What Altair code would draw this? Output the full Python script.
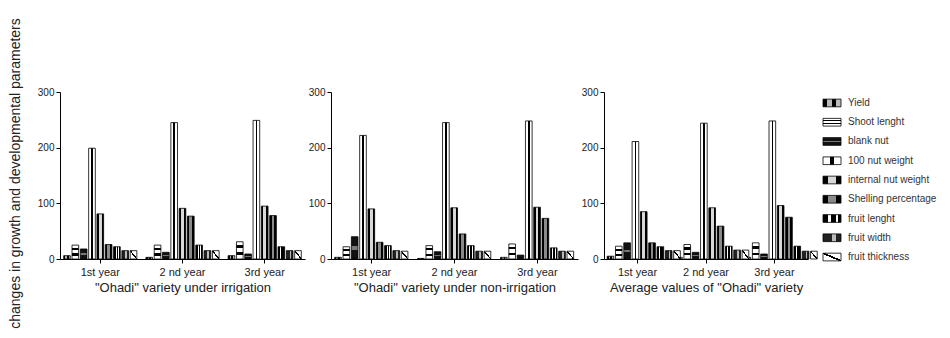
import altair as alt
import pandas as pd

years = ["1st year", "2 nd year", "3rd year"]
series = ["Yield", "Shoot lenght", "blank nut", "100 nut weight", "internal nut weight",
          "Shelling percentage", "fruit lenght", "fruit width", "fruit thickness"]

# values per year, in series order
irr_y1 = [6, 25, 18, 199, 81, 26, 22, 15, 15]
irr_y2 = [3, 25, 12, 245, 91, 77, 25, 15, 15]
irr_y3 = [6, 31, 9, 249, 95, 78, 22, 15, 15]
non_y1 = [3, 22, 40, 222, 90, 30, 24, 15, 14]
non_y2 = [1, 24, 13, 245, 92, 45, 24, 14, 14]
non_y3 = [3, 27, 7, 248, 93, 73, 20, 14, 14]
avg_y1 = [5, 23, 29, 211, 85, 29, 22, 15, 15]
avg_y2 = [3, 26, 12, 244, 92, 59, 23, 16, 16]
avg_y3 = [3, 29, 9, 248, 96, 75, 23, 14, 14]

panel_titles = ['"Ohadi" variety under irrigation',
                '"Ohadi" variety under non-irrigation',
                'Average values of "Ohadi" variety']
y_title = "changes in growth and developmental parameters"
y_ticks = [0, 100, 200, 300]


def make_df(rows):
    recs = []
    for yr, vals in zip(years, rows):
        for s, v in zip(series, vals):
            recs.append({"year": yr, "series": s, "value": v})
    return pd.DataFrame(recs)


B, W = "#000000", "#ffffff"


def grad(segs, x2=1, y2=0, x1=0, y1=0):
    stops = []
    for a, b, c in segs:
        stops.append(alt.GradientStop(color=c, offset=a))
        stops.append(alt.GradientStop(color=c, offset=b))
    return alt.Gradient(gradient="linear", stops=stops, x1=x1, y1=y1, x2=x2, y2=y2)


patterns = {
    "Yield": grad([(0, .25, B), (.25, .5, "#bbbbbb"), (.5, .75, B), (.75, 1, "#bbbbbb")]),
    "Shoot lenght": grad([(0, .2, W), (.2, .35, B), (.35, .6, W), (.6, .75, B), (.75, 1, W)], x2=0, y2=1),
    "blank nut": grad([(0, .42, "#111111"), (.42, .58, "#777777"), (.58, 1, "#111111")], x2=0, y2=1),
    "100 nut weight": grad([(0, .38, W), (.38, .62, B), (.62, 1, W)]),
    "internal nut weight": grad([(0, .3, B), (.3, .7, "#d8d8d8"), (.7, 1, B)]),
    "Shelling percentage": grad([(0, .3, B), (.3, .7, "#8a8a8a"), (.7, 1, B)]),
    "fruit lenght": grad([(0, .3, B), (.3, .45, W), (.45, .7, B), (.7, .82, W), (.82, 1, B)]),
    "fruit width": grad([(0, .5, "#222222"), (.5, .75, "#bbbbbb"), (.75, 1, "#222222")]),
    "fruit thickness": grad([(0, .44, W), (.44, .56, B), (.56, 1, W)], x1=0, y1=1, x2=1, y2=0),
}

label_color = "#222222"


def panel(rows, title, width, with_ytitle):
    df = make_df(rows)
    x = alt.X("year:N", sort=years,
              scale=alt.Scale(domain=years, paddingInner=0.1, paddingOuter=0.04),
              axis=alt.Axis(title=title, labelAngle=0, labelFontSize=11, labelColor=label_color,
                            titleFontSize=13, titleFontWeight="normal", titleColor=label_color,
                            tickSize=4, labelPadding=3, titlePadding=4,
                            domainColor="black", tickColor="black"))
    xo = alt.XOffset("series:N", sort=series,
                     scale=alt.Scale(domain=series, paddingInner=0.2, paddingOuter=0.05))
    if with_ytitle:
        yaxis = alt.Axis(values=y_ticks, grid=False, title=y_title, titleFontSize=14,
                         titleFontWeight="normal", titleColor=label_color, titlePadding=15,
                         titleY=81,
                         labelFontSize=10, labelColor=label_color, tickSize=4,
                         domainColor="black", tickColor="black")
    else:
        yaxis = alt.Axis(values=y_ticks, grid=False, title=None,
                         labelFontSize=10, labelColor=label_color, tickSize=4,
                         domainColor="black", tickColor="black")
    y = alt.Y("value:Q", scale=alt.Scale(domain=[0, 300], nice=False), axis=yaxis)
    layers = []
    for s in series:
        layers.append(
            alt.Chart(df).transform_filter(alt.datum.series == s)
            .mark_bar(fill=patterns[s], stroke="black", strokeWidth=0.8)
            .encode(x=x, xOffset=xo, y=y)
        )
    return alt.layer(*layers).properties(width=width, height=167)


p1 = panel([irr_y1, irr_y2, irr_y3], panel_titles[0], 245, True)
p2 = panel([non_y1, non_y2, non_y3], panel_titles[1], 247, False)
p3 = panel([avg_y1, avg_y2, avg_y3], panel_titles[2], 204, False)

leg_df = pd.DataFrame({"series": series})
ly = alt.Y("series:N", sort=series,
           scale=alt.Scale(domain=series, paddingInner=0.6, paddingOuter=0.37), axis=None)
leg_layers = []
for s in series:
    leg_layers.append(
        alt.Chart(leg_df).transform_filter(alt.datum.series == s)
        .mark_rect(fill=patterns[s], stroke="black", strokeWidth=0.8)
        .encode(y=ly, x=alt.value(-11), x2=alt.value(7))
    )
leg_layers.append(
    alt.Chart(leg_df).mark_text(align="left", baseline="middle", fontSize=10, color="#333333")
    .encode(y=ly, x=alt.value(14), text="series:N")
)
legend = alt.layer(*leg_layers).properties(width=90, height=176)

chart = (
    alt.hconcat(p1, p2, p3, legend, spacing=26, bounds="flush")
    .properties(padding={"left": 0, "top": 9, "right": 0, "bottom": 0})
    .configure(font="Liberation Sans")
    .configure_view(stroke=None)
)

chart.save("out.html", embed_options={"renderer": "svg", "actions": False})
